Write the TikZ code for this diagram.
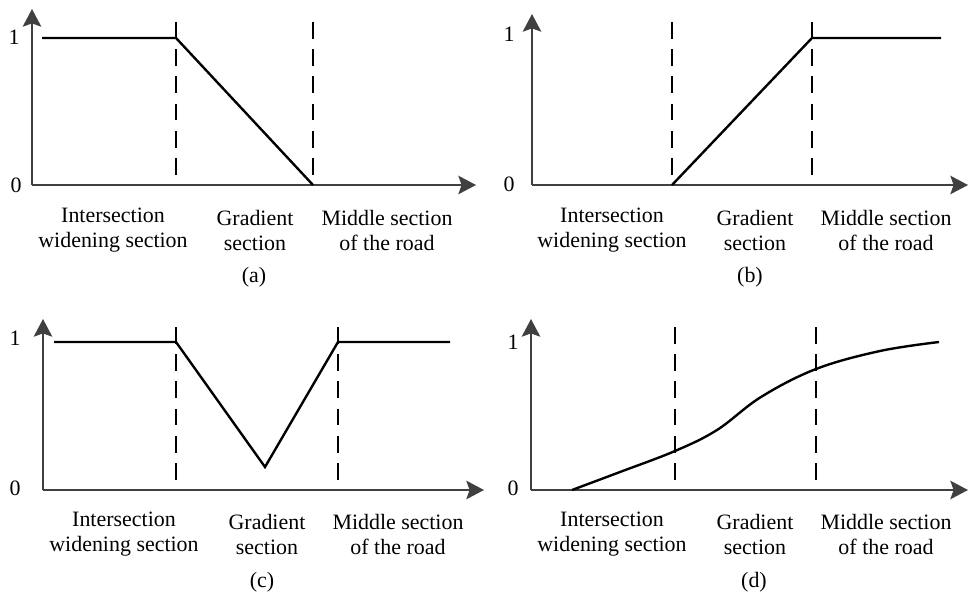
\documentclass[tikz,border=0pt]{standalone}
\usepackage{fontspec}
\setmainfont{Liberation Serif}
\usetikzlibrary{arrows.meta}

\begin{document}
\begin{tikzpicture}[x=0.025cm, y=-0.025cm,
    font=\fontsize{15.6}{17.8}\selectfont,
    axis/.style={draw=black!75, line width=1.7pt, -{Stealth[length=4.4mm,width=4.6mm,inset=0.8mm]}},
    border/.style={draw=black, dash pattern=on 0.42cm off 0.26cm, line width=1.8pt},
    curve/.style={draw=black, line width=1.7pt, line join=miter},
    lbl/.style={align=center, inner sep=0pt}]
	\useasboundingbox (0,0) rectangle (968,597);
	% (a)
	\draw[axis] (32,185) -- (32,9);
	\draw[axis] (32,185) -- (476,185);
	\node[lbl] (a1) at (14,37) {1};
	\node[lbl] (a0) at (16,185) {0};
	\draw[border] (176,22) -- (176,185);
	\draw[border] (313,22) -- (313,185);
	\draw[curve] (42,38) -- (176,38) -- (313,185);
	\node[lbl] (awide) at (113,230.5) {Intersection\\widening section};
	\node[lbl] (agrad) at (255,230.5) {Gradient\\section};
	\node[lbl] (amid) at (387,230.5) {Middle section\\of the road};
	\node[lbl] (acap) at (254,277) {(a)};
	% (b)
	\draw[axis] (532,185) -- (532,14);
	\draw[axis] (532,185) -- (968,185);
	\node[lbl] (b1) at (509,34) {1};
	\node[lbl] (b0) at (509,184) {0};
	\draw[border] (672,22) -- (672,185);
	\draw[border] (812,22) -- (812,185);
	\draw[curve] (672,185) -- (812,38) -- (941,38);
	\node[lbl] (bwide) at (612,230.5) {Intersection\\widening section};
	\node[lbl] (bgrad) at (755,230.5) {Gradient\\section};
	\node[lbl] (bmid) at (886,230.5) {Middle section\\of the road};
	\node[lbl] (bcap) at (750,277) {(b)};
	% (c)
	\draw[axis] (43,490) -- (43,319);
	\draw[axis] (43,490) -- (484,490);
	\node[lbl] (c1) at (15,338) {1};
	\node[lbl] (c0) at (15,488) {0};
	\draw[border] (176,327) -- (176,490);
	\draw[border] (338,327) -- (338,490);
	\draw[curve] (54,342) -- (176,342) -- (265,467) -- (338,342) -- (450,342);
	\node[lbl] (cwide) at (124,534.5) {Intersection\\widening section};
	\node[lbl] (cgrad) at (267,534.5) {Gradient\\section};
	\node[lbl] (cmid) at (398,534.5) {Middle section\\of the road};
	\node[lbl] (ccap) at (262,582) {(c)};
	% (d)
	\draw[axis] (531,490) -- (531,319);
	\draw[axis] (531,490) -- (968,490);
	\node[lbl] (d1) at (513,342) {1};
	\node[lbl] (d0) at (513,488) {0};
	\draw[border] (675,327) -- (675,490);
	\draw[border] (816,327) -- (816,490);
	\draw[curve] plot[smooth, tension=0.6] coordinates {(572,490) (620,472) (675,451) (717,430) (761,397) (816,369) (880,351) (939,342)};
	\node[lbl] (dwide) at (612,534.5) {Intersection\\widening section};
	\node[lbl] (dgrad) at (755,534.5) {Gradient\\section};
	\node[lbl] (dmid) at (886,534.5) {Middle section\\of the road};
	\node[lbl] (dcap) at (754,582) {(d)};
\end{tikzpicture}
\end{document}
